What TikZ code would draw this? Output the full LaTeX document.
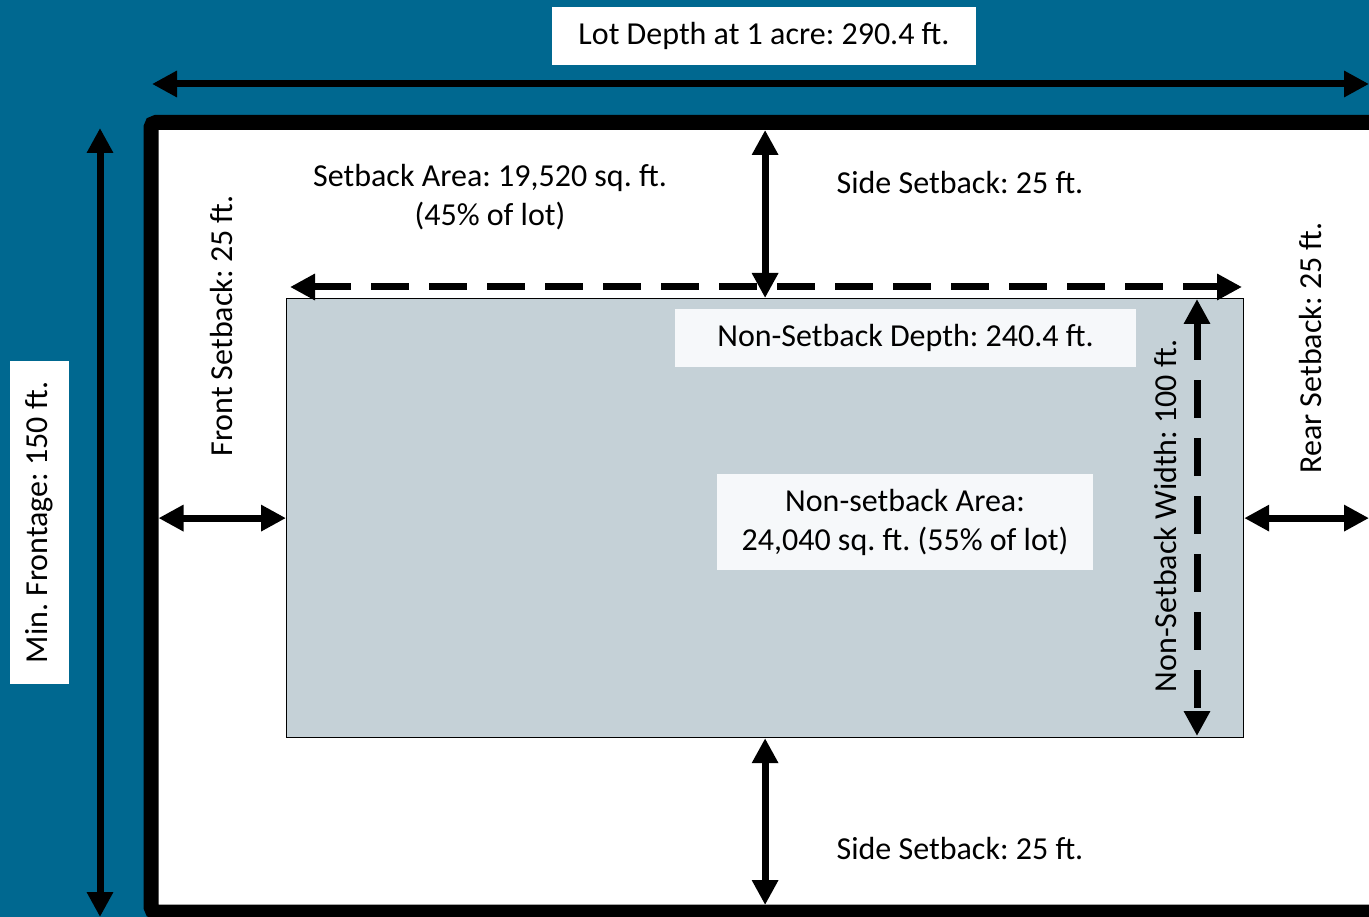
\documentclass[tikz,border=0pt]{standalone}
\usepackage{fontspec}
\setmainfont{Carlito}
\frenchspacing
\usetikzlibrary{arrows.meta}
\definecolor{teal}{RGB}{0,104,144}
\definecolor{inner}{RGB}{197,209,215}
\definecolor{lbox}{RGB}{246,248,250}
\tikzset{
  dim/.style={line width=7pt, {Triangle[length=25pt,width=25pt]}-{Triangle[length=25pt,width=25pt]}},
  dimdash/.style={dim, dash pattern=on 38pt off 20pt},
  lbl/.style={font=\fontsize{32}{39}\selectfont\frenchspacing, inner sep=0pt, align=center, text=black},
  whitebox/.style={fill=white, inner sep=0pt},
  lightbox/.style={fill=lbox, inner sep=0pt},
}
\begin{document}
\begin{tikzpicture}[x=1pt,y=-1pt]
\useasboundingbox (0,0) rectangle (1369,917);
\clip (0,0) rectangle (1369,917);
\fill[teal] (0,0) rectangle (1369,917);
% lot
\draw[line width=15pt, fill=white, rounded corners=5pt] (151,122.5) rectangle (1400,912);
\coordinate (lotTL) at (158.5,130);
\coordinate (lotBR) at (1369,905);
% non-setback area
\node[draw=black, line width=1.2pt, fill=inner, minimum width=957pt, minimum height=439pt, inner sep=0pt, anchor=north west] (ns) at (286,298) {};
% outer dimension arrows
\coordinate (tl) at (152,84); \coordinate (tr) at (1369,84);
\draw[dim] (tl) -- (tr);
\coordinate (lt) at (100,128); \coordinate (lb) at (100,917);
\draw[dim] (lt) -- (lb);
% setback arrows
\draw[dim] (ns.north) -- (ns.north |- lotTL);
\draw[dim] (ns.south) -- (ns.south |- lotBR);
\draw[dim] (ns.west) -- (ns.west -| lotTL);
\draw[dim] (ns.east) -- (ns.east -| lotBR);
% dashed arrows
\coordinate (dl) at (290,287); \coordinate (dr) at (1242,287);
\draw[dimdash] (dl) -- (dr);
\coordinate (vt) at (1197,299); \coordinate (vb) at (1197,736);
\draw[dimdash] (vt) -- (vb);
% label boxes
\node[whitebox, minimum width=424pt, minimum height=58pt] (lotdepth) at (764,36) {};
\node[lbl] at (lotdepth) {Lot Depth at 1 acre: 290.4 ft.};
\node[whitebox, minimum width=59pt, minimum height=323pt] (front) at (39.5,522.5) {};
\node[lbl, rotate=90] at (front) {Min. Frontage: 150 ft.};
\node[lightbox, minimum width=461pt, minimum height=58pt] (nsdepth) at (905.5,338) {};
\node[lbl] at (nsdepth) {Non-Setback Depth: 240.4 ft.};
\node[lightbox, minimum width=376pt, minimum height=96pt] (nsarea) at (905,522) {};
\node[lbl] at (nsarea) {Non-setback Area:\\24,040 sq. ft. (55\% of lot)};
% free labels
\node[lbl] (sa) at (490,197) {Setback Area: 19,520 sq. ft.\\(45\% of lot)};
\node[lbl] (sst) at (960,183) {Side Setback: 25 ft.};
\node[lbl] (ssb) at (960,849) {Side Setback: 25 ft.};
\node[lbl, rotate=90] (fs) at (222,326) {Front Setback: 25 ft.};
\node[lbl, rotate=90] (rs) at (1311,348) {Rear Setback: 25 ft.};
\node[lbl, rotate=90] (nsw) at (1166,516) {Non-Setback Width: 100 ft.};
\end{tikzpicture}
\end{document}
